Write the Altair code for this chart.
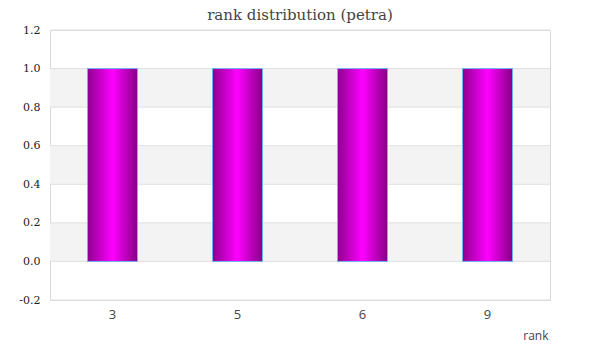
import altair as alt
import pandas as pd

ranks = ["3", "5", "6", "9"]
counts = [1, 1, 1, 1]
band_lo = [0.0, 0.4, 0.8]
band_hi = [0.2, 0.6, 1.0]
y_ticks = [-0.2, 0.0, 0.2, 0.4, 0.6, 0.8, 1.0, 1.2]

df = pd.DataFrame({"rank": ranks, "count": counts})
bands = pd.DataFrame({"lo": band_lo, "hi": band_hi})
grid = pd.DataFrame({"v": y_ticks})

yscale = alt.Scale(domain=[-0.2, 1.2], nice=False, zero=False)
yaxis = alt.Axis(values=y_ticks, title=None, ticks=False,
                 labelExpr="datum.value < 0 ? '-' + format(-datum.value, '.1f') : format(datum.value, '.1f')",
                 domain=False, grid=False, labelOverlap=False, labelFlush=False,
                 labelFont="DejaVu Serif", labelFontSize=11,
                 labelColor="#222222", labelPadding=10)

band_layer = alt.Chart(bands).mark_rect(color="#f3f3f3").encode(
    y=alt.Y("lo:Q", scale=yscale, axis=yaxis),
    y2="hi:Q",
    x=alt.value(0), x2=alt.value(500),
)

grid_layer = alt.Chart(grid).mark_rule(color="#e0e0e0", strokeWidth=1).encode(
    y=alt.Y("v:Q", scale=yscale, axis=yaxis),
    x=alt.value(0), x2=alt.value(500),
)

grad = alt.Gradient(
    gradient="linear",
    stops=[alt.GradientStop(color="#8e008e", offset=0),
           alt.GradientStop(color="#ff00ff", offset=0.5),
           alt.GradientStop(color="#850085", offset=1)],
    x1=0, x2=1, y1=0, y2=0,
)

bars = alt.Chart(df).mark_bar(fill=grad, stroke="#70b0f0", strokeWidth=1).encode(
    x=alt.X("rank:N", sort=ranks,
            scale=alt.Scale(paddingInner=0.6, paddingOuter=0.3),
            axis=alt.Axis(title="rank", labelAngle=0, ticks=False, domain=False,
                          labelFont="Open Sans", labelFontSize=13, labelColor="#444444",
                          labelPadding=8, titleFont="Open Sans", titleFontSize=12,
                          titleFontWeight="normal", titleColor="#444444",
                          titleX=498, titleY=35, titleAlign="right",
                          titleBaseline="middle")),
    y=alt.Y("count:Q", scale=yscale, axis=yaxis),
)

chart = alt.layer(band_layer, grid_layer, bars).resolve_axis(y="shared").properties(
    width=500, height=270,
    autosize="none",
    padding={"left": 42, "top": 22, "right": 42, "bottom": 44},
    title=alt.TitleParams("rank distribution (petra)", font="DejaVu Serif",
                          fontSize=15, fontWeight="normal", color="#444444",
                          anchor="middle", offset=6, dy=5),
).configure_view(stroke="#d9d9d9", strokeWidth=1)

chart.save("out.html", embed_options={"renderer": "svg", "actions": False})
